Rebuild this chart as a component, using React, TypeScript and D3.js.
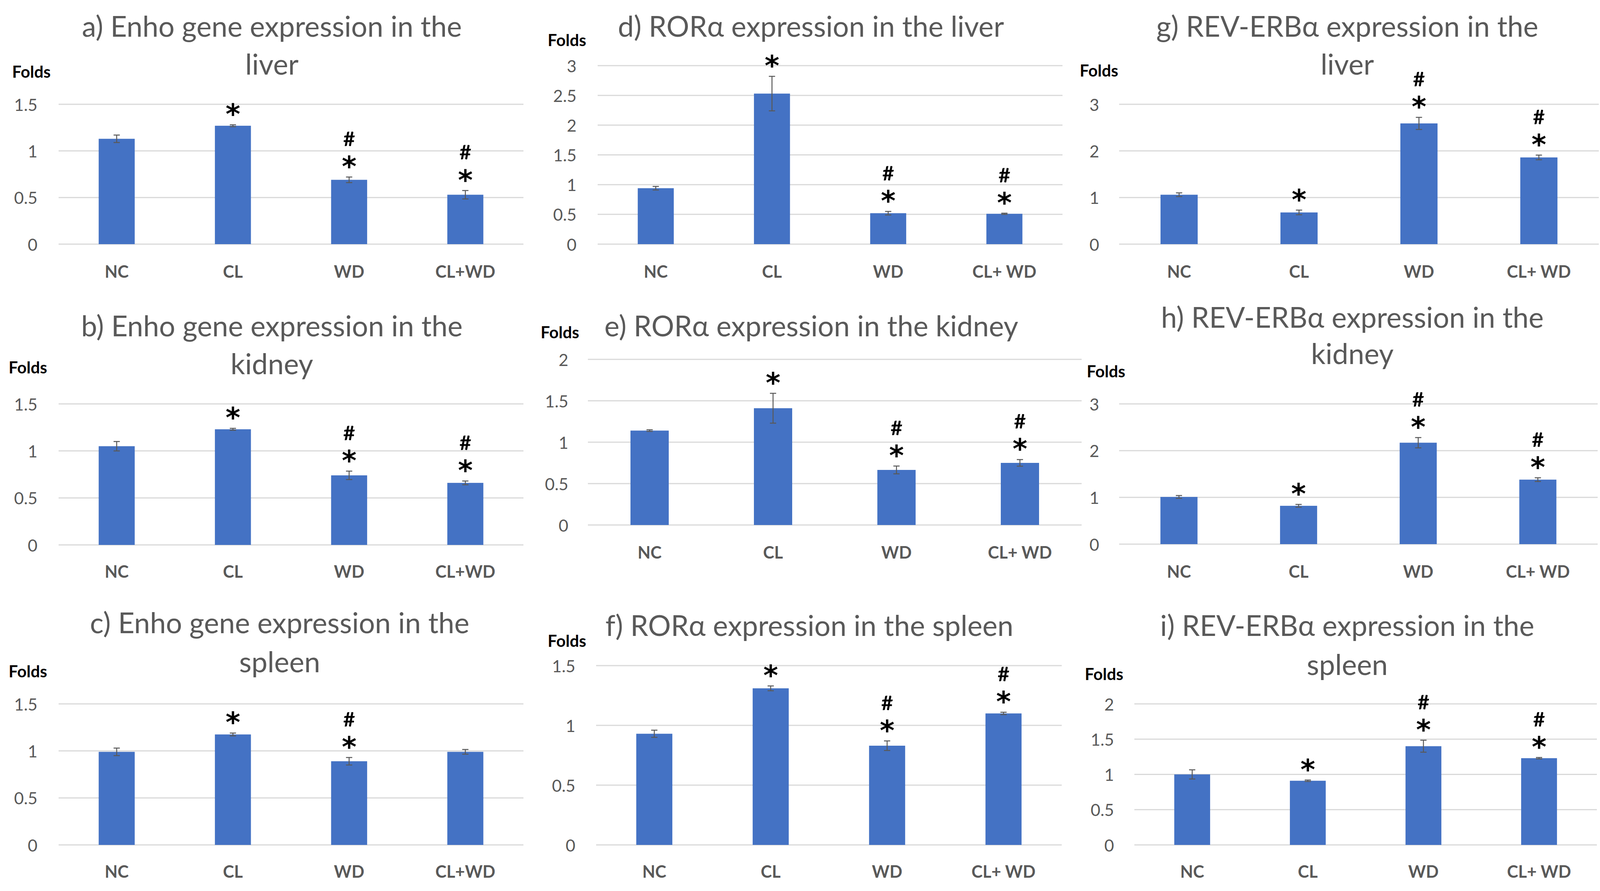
import React, { useEffect } from "react";
import * as d3 from "d3";

// group labels (Enho panels have no space after the plus)
const enhoGroups = ["NC", "CL", "WD", "CL+WD"];
const receptorGroups = ["NC", "CL", "WD", "CL+ WD"];

// mean folds and error bars
const enhoLiver = [1.13, 1.27, 0.69, 0.53];
const enhoLiverErr = [0.04, 0.01, 0.03, 0.045];
const enhoKidney = [1.05, 1.23, 0.74, 0.66];
const enhoKidneyErr = [0.05, 0.01, 0.045, 0.02];
const enhoSpleen = [0.99, 1.175, 0.89, 0.99];
const enhoSpleenErr = [0.04, 0.015, 0.04, 0.025];

const rorLiver = [0.94, 2.53, 0.52, 0.51];
const rorLiverErr = [0.03, 0.29, 0.03, 0.01];
const rorKidney = [1.14, 1.41, 0.665, 0.75];
const rorKidneyErr = [0.01, 0.18, 0.047, 0.04];
const rorSpleen = [0.93, 1.31, 0.83, 1.1];
const rorSpleenErr = [0.03, 0.02, 0.04, 0.01];

const revLiver = [1.06, 0.68, 2.59, 1.86];
const revLiverErr = [0.04, 0.05, 0.13, 0.05];
const revKidney = [1.01, 0.82, 2.17, 1.38];
const revKidneyErr = [0.03, 0.03, 0.11, 0.04];
const revSpleen = [1.0, 0.91, 1.4, 1.23];
const revSpleenErr = [0.065, 0.01, 0.085, 0.01];

// significance marks: "*" vs NC, "#" vs CL
const marksAll = ["", "*", "#*", "#*"];
const marksEnhoSpleen = ["", "*", "#*", ""];

const ticks15 = [0, 0.5, 1, 1.5];
const ticks2 = [0, 0.5, 1, 1.5, 2];
const ticks3half = [0, 0.5, 1, 1.5, 2, 2.5, 3];
const ticks3 = [0, 1, 2, 3];

const panels = [
  { title: ["a) Enho gene expression in the", "liver"], groups: enhoGroups, values: enhoLiver, errors: enhoLiverErr, marks: marksAll, ticks: ticks15 },
  { title: ["d) RORα expression in the liver"], groups: receptorGroups, values: rorLiver, errors: rorLiverErr, marks: marksAll, ticks: ticks3half },
  { title: ["g) REV-ERBα expression in the", "liver"], groups: receptorGroups, values: revLiver, errors: revLiverErr, marks: marksAll, ticks: ticks3 },
  { title: ["b) Enho gene expression in the", "kidney"], groups: enhoGroups, values: enhoKidney, errors: enhoKidneyErr, marks: marksAll, ticks: ticks15 },
  { title: ["e) RORα expression in the kidney"], groups: receptorGroups, values: rorKidney, errors: rorKidneyErr, marks: marksAll, ticks: ticks2 },
  { title: ["h) REV-ERBα expression in the", "kidney"], groups: receptorGroups, values: revKidney, errors: revKidneyErr, marks: marksAll, ticks: ticks3 },
  { title: ["c) Enho gene expression in the", "spleen"], groups: enhoGroups, values: enhoSpleen, errors: enhoSpleenErr, marks: marksEnhoSpleen, ticks: ticks15 },
  { title: ["f) RORα expression in the spleen"], groups: receptorGroups, values: rorSpleen, errors: rorSpleenErr, marks: marksAll, ticks: ticks15 },
  { title: ["i) REV-ERBα expression in the", "spleen"], groups: receptorGroups, values: revSpleen, errors: revSpleenErr, marks: marksAll, ticks: ticks2 },
];

// where each panel sits on the page
const layouts = [
  { left: 150, right: 1340, yTop: 267, y0: 625, titleX: 696, titleY: [66, 163], foldsX: 31, foldsY: 183, tickX: 96, labelY: 694 },
  { left: 1530, right: 2720, yTop: 168, y0: 625, titleX: 2076, titleY: [66], foldsX: 1402, foldsY: 102, tickX: 1476, labelY: 694 },
  { left: 2865, right: 4093, yTop: 267, y0: 625, titleX: 3449, titleY: [66, 163], foldsX: 2764, foldsY: 180, tickX: 2814, labelY: 694 },
  { left: 150, right: 1340, yTop: 1034, y0: 1395, titleX: 696, titleY: [833, 930], foldsX: 22, foldsY: 940, tickX: 96, labelY: 1462 },
  { left: 1505, right: 2769, yTop: 920, y0: 1344, titleX: 2077, titleY: [833], foldsX: 1384, foldsY: 850, tickX: 1455, labelY: 1413 },
  { left: 2865, right: 4090, yTop: 1034, y0: 1393, titleX: 3462, titleY: [811, 904], foldsX: 2782, foldsY: 950, tickX: 2814, labelY: 1462 },
  { left: 150, right: 1340, yTop: 1802, y0: 2163, titleX: 716, titleY: [1593, 1693], foldsX: 22, foldsY: 1718, tickX: 96, labelY: 2230 },
  { left: 1526, right: 2718, yTop: 1704, y0: 2163, titleX: 2072, titleY: [1600], foldsX: 1402, foldsY: 1640, tickX: 1473, labelY: 2230 },
  { left: 2904, right: 4088, yTop: 1802, y0: 2163, titleX: 3449, titleY: [1600, 1700], foldsX: 2777, foldsY: 1725, tickX: 2852, labelY: 2230 },
];

const FONT = "Lato, 'Open Sans', sans-serif";
const STAR_FONT = "'DejaVu Sans', sans-serif";
const BAR = "#4472C4";
const GRID = "#D9D9D9";
const GREY = "#595959";
const STAR_SIZE = 72;
const HASH_SIZE = 52;
// gap between the centres of the "*" and the "#" above it
const MARK_GAP = 54;

function Panel({ p, box }: { p: any; box: any }) {
  const x = d3
    .scaleBand<string>()
    .domain(p.groups)
    .range([box.left, box.right])
    .paddingInner(0.69)
    .paddingOuter(0.345);
  const y = d3
    .scaleLinear()
    .domain([0, d3.max(p.ticks as number[]) as number])
    .range([box.y0, box.yTop]);
  const bw = x.bandwidth();
  const cap = 8;

  return (
    <g>
      {p.title.map((t: string, i: number) => (
        <text
          key={t}
          x={box.titleX}
          y={box.titleY[i]}
          textAnchor="middle"
          dominantBaseline="central"
          fill={GREY}
          style={{ fontFamily: FONT, fontSize: 73 }}
        >
          {t}
        </text>
      ))}
      <text
        x={box.foldsX}
        y={box.foldsY}
        dominantBaseline="central"
        fill="#000"
        style={{ fontFamily: FONT, fontSize: 42, fontWeight: 700 }}
      >
        Folds
      </text>
      {p.ticks.map((t: number) => (
        <g key={t}>
          <line x1={box.left} x2={box.right} y1={y(t)} y2={y(t)} stroke={GRID} strokeWidth={3} />
          <text
            x={box.tickX}
            y={y(t)}
            textAnchor="end"
            dominantBaseline="central"
            fill={GREY}
            style={{ fontFamily: FONT, fontSize: 43 }}
          >
            {d3.format("")(t)}
          </text>
        </g>
      ))}
      {p.groups.map((g: string, i: number) => {
        const cx = (x(g) as number) + bw / 2;
        const v = p.values[i];
        const e = p.errors[i];
        const top = y(v + e);
        const bottom = y(v - e);
        // centre of the asterisk, then the hash stacked above it
        const starY = top - 44;
        const hashY = starY - MARK_GAP;
        const mark: string = p.marks[i];
        return (
          <g key={g}>
            <rect x={x(g)} y={y(v)} width={bw} height={y(0) - y(v)} fill={BAR} />
            <line x1={cx} x2={cx} y1={bottom} y2={top} stroke={GREY} strokeWidth={2.5} />
            <line x1={cx - cap} x2={cx + cap} y1={top} y2={top} stroke={GREY} strokeWidth={2.5} />
            <line x1={cx - cap} x2={cx + cap} y1={bottom} y2={bottom} stroke={GREY} strokeWidth={2.5} />
            {mark.includes("#") && (
              <text
                x={cx}
                y={hashY + HASH_SIZE * 0.36}
                textAnchor="middle"
                fill="#000"
                style={{ fontFamily: FONT, fontSize: HASH_SIZE, fontWeight: 700 }}
              >
                #
              </text>
            )}
            {mark.includes("*") && (
              <text
                x={cx}
                y={starY + STAR_SIZE * 0.58}
                textAnchor="middle"
                fill="#000"
                style={{ fontFamily: STAR_FONT, fontSize: STAR_SIZE, fontWeight: 700 }}
              >
                *
              </text>
            )}
            <text
              x={cx}
              y={box.labelY}
              textAnchor="middle"
              dominantBaseline="central"
              fill={GREY}
              style={{ fontFamily: FONT, fontSize: 43, fontWeight: 700 }}
            >
              {g}
            </text>
          </g>
        );
      })}
    </g>
  );
}

export default function App() {
  useEffect(() => {
    document.body.style.margin = "0";
  }, []);
  return (
    <svg width={4121} height={2281} style={{ display: "block", background: "#fff" }}>
      <rect width={4121} height={2281} fill="#fff" />
      {panels.map((p, i) => (
        <Panel key={i} p={p} box={layouts[i]} />
      ))}
    </svg>
  );
}
